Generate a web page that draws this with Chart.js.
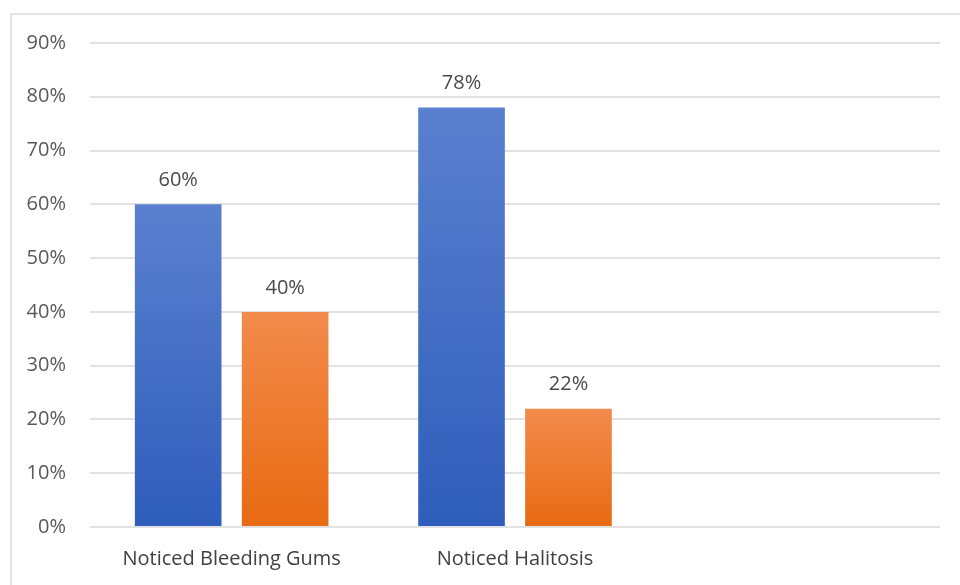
<!DOCTYPE html>
<html>
<head>
<meta charset="utf-8">
<script src="https://cdn.jsdelivr.net/npm/chart.js@4"></script>
<style>
  html, body { margin: 0; padding: 0; background: #fff; }
  #frame {
    position: absolute; left: 10px; top: 13px; width: 960px; height: 600px;
    border-top: 2px solid #e3e3e3; border-left: 2px solid #e3e3e3;
  }
  #wrap { position: absolute; left: 0; top: 0; width: 960px; height: 585px; }
</style>
</head>
<body>
<div id="frame"></div>
<div id="wrap"><canvas id="barChart"></canvas></div>
<script>
// categories (third slot is empty in the original)
const categories = ['Noticed Bleeding Gums', 'Noticed Halitosis', ''];
const seriesA = [60, 78, null];
const seriesB = [40, 22, null];

const blueStops = ['#5a80cf', '#2f5dbb'];
const orangeStops = ['#f28b4c', '#e86a12'];

// gradient per bar, from its top to the baseline
function barGradient(stops) {
    return function(context) {
        const chart = context.chart;
        const yScale = chart.scales.y;
        const v = context.raw;
        if (!yScale || v == null) return stops[1];
        const top = yScale.getPixelForValue(v);
        const bottom = yScale.getPixelForValue(0);
        if (!isFinite(top) || !isFinite(bottom) || top === bottom) return stops[1];
        const g = chart.ctx.createLinearGradient(0, top, 0, bottom);
        g.addColorStop(0, stops[0]);
        g.addColorStop(1, stops[1]);
        return g;
    };
}

// write the value above each bar
const valueLabels = {
    id: 'valueLabels',
    afterDatasetsDraw(chart) {
        const ctx = chart.ctx;
        ctx.save();
        ctx.font = '20px "Open Sans"';
        ctx.fillStyle = '#4a4a4a';
        ctx.textAlign = 'center';
        ctx.textBaseline = 'middle';
        chart.data.datasets.forEach((ds, i) => {
            chart.getDatasetMeta(i).data.forEach((bar, j) => {
                if (ds.data[j] == null) return;
                ctx.fillText(ds.data[j] + '%', bar.x, bar.y - 24);
            });
        });
        ctx.restore();
    }
};

window.onload = function() {
    const ctx = document.getElementById('barChart').getContext('2d');

    new Chart(ctx, {
        type: 'bar',
        data: {
            labels: categories,
            datasets: [
                { label: 'Yes', data: seriesA, backgroundColor: barGradient(blueStops) },
                { label: 'No', data: seriesB, backgroundColor: barGradient(orangeStops) }
            ]
        },
        options: {
            responsive: true,
            maintainAspectRatio: false,
            animation: false,
            layout: { padding: { left: 0, right: 20, top: 43, bottom: 0 } },
            categoryPercentage: 0.755,
            barPercentage: 0.81,
            plugins: {
                legend: { display: false },
                tooltip: { enabled: false }
            },
            scales: {
                x: {
                    grid: { display: false, drawTicks: false },
                    border: { display: false },
                    ticks: { color: '#404040', font: { family: 'Open Sans', size: 20 }, padding: 20, maxRotation: 0 },
                    afterFit(scale) { scale.height = 58; }
                },
                y: {
                    min: 0,
                    max: 90,
                    ticks: {
                        stepSize: 10,
                        color: '#595959',
                        font: { family: 'Open Sans', size: 20 },
                        padding: 24,
                        callback: v => v + '%'
                    },
                    grid: { color: '#e2e2e2', lineWidth: 2, drawTicks: false },
                    border: { display: false },
                    afterFit(scale) { scale.width = 90; }
                }
            }
        },
        plugins: [valueLabels]
    });
};
</script>
</body>
</html>
